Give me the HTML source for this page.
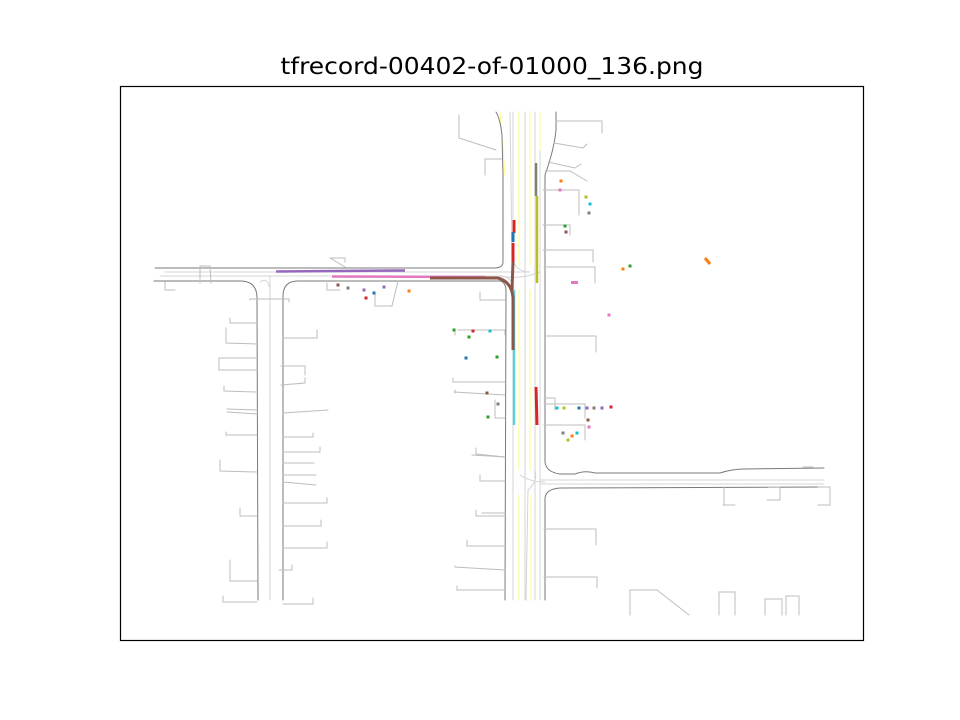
<!DOCTYPE html>
<html><head><meta charset="utf-8"><style>
html,body{margin:0;padding:0;background:#fff;}
svg{display:block;font-family:"DejaVu Sans","Liberation Sans",sans-serif;}
</style></head><body>
<svg id="chart" width="960" height="720" viewBox="0 0 960 720">
<text x="492" y="74" text-anchor="middle" font-size="23" fill="#000" textLength="423" lengthAdjust="spacingAndGlyphs">tfrecord-00402-of-01000_136.png</text>
<g id="map" fill="none" stroke-linecap="round">
<g stroke="#d4d4d4" stroke-width="1">
<path d="M510,112 L512,255 Q514,272 530,272 L165,272"/>
<path d="M513,112 L513,600"/>
<path d="M525,112 L525,600"/>
<path d="M535,112 L535,600"/>
<path d="M540,112 L540,600"/>
<path d="M160,276 L500,276 Q512,276 514,290"/>
<path d="M500,276 Q520,280 540,272"/>
<path d="M270,276 L270,600"/>
<path d="M260,282 Q268,276 270,290"/>
<path d="M540,480 L824,480"/>
<path d="M540,484 L824,484"/>
<path d="M520,475 Q530,482 545,482"/>
<path d="M535,470 Q538,482 528,490 L526,600"/>
</g>
<g stroke="#ffff88" stroke-width="1">
<path d="M500,112 L505,175"/>
<path d="M519,112 L519,265"/>
<path d="M530,112 L530,265"/>
<path d="M540,112 L540,150"/>
<path d="M519,290 L519,470"/>
<path d="M530,290 L530,470"/>
<path d="M519,495 L519,600"/>
<path d="M531,495 L531,600"/>
</g>
<g stroke="#7a7a7a" stroke-width="1">
<path d="M496,112 Q500,118 502,135 L503,175 L503,262 Q503,268 494,268 L155,268"/>
<path d="M154,281 L240,281 Q257,281 257,298 L258,600"/>
<path d="M283,600 L283,296 Q283,281 298,281 L500,281 Q506,282 506,292 L505,600"/>
<path d="M556,112 L556,130 Q554,150 545,175 L545,462 Q546,472 560,474 L575,474 Q585,470 595,473 L720,473 Q732,469 745,469 L824,468"/>
<path d="M545,600 L545,498 Q546,489 560,488 L824,487"/>
</g>
<g stroke="#bdbdbd" stroke-width="1">
<path d="M459,115 L459,138 L496,150"/>
<path d="M485,175 L485,159 L502,159"/>
<path d="M556,121 L602,121 L602,133"/>
<path d="M554,143 L583,148 L587,144"/>
<path d="M548,162 L575,168 L581,164"/>
<path d="M545,171 L570,171 L587,181"/>
<path d="M543,190 L579,190 L579,215"/>
<path d="M543,225 L570,225 L570,235"/>
<path d="M543,250 L593,250 L593,262"/>
<path d="M544,267 L595,267 L595,283"/>
<path d="M200,283 L200,266 L210,266 L211,283"/>
<path d="M331,258 L345,258 L345,262"/>
<path d="M330,258 L345,267"/>
<path d="M165,282 L165,290 L175,290"/>
<path d="M250,300 L250,299 L289,299 L289,302"/>
<path d="M327,283 L327,290 L340,290"/>
<path d="M375,292 L375,306 L392,306 L398,281"/>
<path d="M480,292 L480,300 L505,300"/>
<path d="M455,329 L455,335 M458,330 L505,330 L505,335"/>
<path d="M453,382 L505,382 M453,378 L453,382"/>
<path d="M455,393 L455,390 M454,392 L505,395"/>
<path d="M495,400 L495,418 L505,418"/>
<path d="M544,336 L596,336 L596,352"/>
<path d="M544,398 L555,398 L555,410 M544,404 L585,404 L585,418"/>
<path d="M544,425 L585,425 L585,440"/>
<path d="M476,448 L476,454 L505,457"/>
<path d="M472,455 L505,457"/>
<path d="M480,475 L480,481 L505,481"/>
<path d="M476,510 L476,516 L505,516"/>
<path d="M482,513 L505,513"/>
<path d="M467,540 L467,546 L505,546"/>
<path d="M455,566 L455,567 L505,570"/>
<path d="M457,586 L457,590 L505,590"/>
<path d="M544,529 L596,529 L596,545"/>
<path d="M544,577 L597,577 L597,588"/>
<path d="M724,505 L724,487 M723,505 L735,505"/>
<path d="M768,487 L780,487 L780,500 L767,500"/>
<path d="M818,487 L830,487 L830,505 L818,505"/>
<path d="M803,467 L813,467"/>
<path d="M630,615 L630,590 L657,590 L689,615"/>
<path d="M719,615 L719,592 L735,592 L735,615"/>
<path d="M765,615 L765,599 L782,599 L782,615"/>
<path d="M786,615 L786,596 L799,596 L799,615"/>
<path d="M230,318 L230,323 L257,323"/>
<path d="M226,328 L226,343 L257,344"/>
<path d="M219,358 L219,370 L257,370 M219,358 L257,358"/>
<path d="M224,386 L224,391 L257,392"/>
<path d="M227,409 L257,410 M227,412 L257,414"/>
<path d="M226,432 L226,435 L257,435"/>
<path d="M220,460 L220,471 L257,472"/>
<path d="M240,508 L240,516 L257,516"/>
<path d="M230,560 L230,581 L257,581"/>
<path d="M223,596 L223,602 L257,602"/>
<path d="M283,338 L317,338 L317,330"/>
<path d="M281,366 L305,366 L305,375 M281,385 L305,383 L305,378"/>
<path d="M283,413 L328,410"/>
<path d="M283,437 L313,437 L313,433"/>
<path d="M283,452 L320,452 L320,447 M283,463 L314,463"/>
<path d="M283,475 L316,475 M283,482 L316,485"/>
<path d="M283,503 L327,503 L327,498"/>
<path d="M283,526 L321,526 L321,520"/>
<path d="M283,548 L327,548 L327,542"/>
<path d="M279,570 L292,570 L292,565"/>
<path d="M283,604 L313,604 L313,598"/>
</g>
<g stroke-width="3" stroke-linecap="butt">
<path d="M276,271.5 L405,270.5" stroke="#9467bd" stroke-width="2.5"/>
<path d="M332,276.5 L485,277" stroke="#e377c2" stroke-width="2.5"/>
<path d="M514,290 L514,425" stroke="#5ccfdd" stroke-width="2.5"/>
<path d="M430,278 L498,278 Q512,282 513,298 L513,350" stroke="#8c564b"/>
<path d="M514,220 L514,233 M513,243 L513,262" stroke="#d62728"/>
<path d="M513,262 L512,290" stroke="#8c564b"/>
<path d="M513,232 L513,242" stroke="#1f77b4"/>
<path d="M536,163 L536,196" stroke="#7f7f7f" stroke-width="2.5"/>
<path d="M537,196 L537,283" stroke="#bcbd22" stroke-width="2.5"/>
<path d="M536,387 L537,425" stroke="#d62728"/>
<path d="M705,258 L710,264" stroke="#ff7f0e"/>
<path d="M571,282.5 L578,282.5" stroke="#e377c2"/>
</g>
<g id="agents"></g>
</g>
<rect x="120.5" y="86.5" width="743" height="554" fill="none" stroke="#000" stroke-width="1.2"/>
</svg>
<script>
const agentX = [561,560,586,590,589,565,566,630,623,609,338,348,364,374,384,366,409,454,473,490,469,497,466,487,498,488,557,564,579,587,594,602,611,588,589,563,577,572,568];
const agentY = [181,190,197,204,213,226,232,266,269,315,285,288,290,293,287,298,291,330,331,331,337,357,358,393,404,417,408,408,408,408,408,408,407,420,427,433,433,436,440];
const agentC = ["#ff7f0e","#e377c2","#bcbd22","#17becf","#7f7f7f","#2ca02c","#8c564b","#2ca02c","#ff7f0e","#e377c2","#8c564b","#7f7f7f","#9467bd","#1f77b4","#9467bd","#d62728","#ff7f0e","#2ca02c","#d62728","#17becf","#2ca02c","#2ca02c","#1f77b4","#8c564b","#7f7f7f","#2ca02c","#17becf","#bcbd22","#1f77b4","#9467bd","#7f7f7f","#9467bd","#d62728","#8c564b","#e377c2","#7f7f7f","#17becf","#ff7f0e","#bcbd22"];
const g = document.getElementById('agents');
for (let i = 0; i < agentX.length; i++) {
  const r = document.createElementNS('http://www.w3.org/2000/svg', 'rect');
  r.setAttribute('x', agentX[i] - 1.5);
  r.setAttribute('y', agentY[i] - 1.5);
  r.setAttribute('width', 3);
  r.setAttribute('height', 3);
  r.setAttribute('fill', agentC[i]);
  
  
  g.appendChild(r);
}
</script>
</body></html>
